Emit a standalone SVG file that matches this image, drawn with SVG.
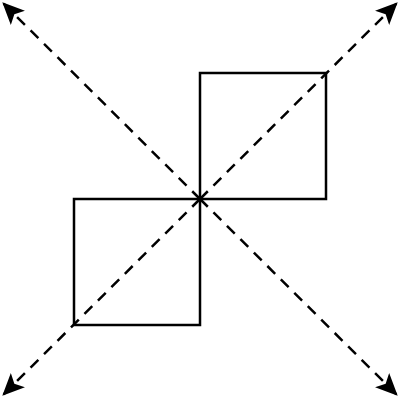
<svg xmlns="http://www.w3.org/2000/svg" width="400" height="400" viewBox="0 0 400 400">
  <defs>
    <style>
      .sq { fill: none; stroke: #000; stroke-width: 2.5; }
      .dash { fill: none; stroke: #000; stroke-width: 2.5; stroke-dasharray: 11 8; }
    </style>
    <marker id="arr" viewBox="0 0 22 20" refX="21" refY="10" markerWidth="22" markerHeight="20" markerUnits="userSpaceOnUse" orient="auto">
      <path d="M0,0 L22,10 L0,20 L5,10 Z" fill="#000"/>
    </marker>
  </defs>
  <rect width="400" height="400" fill="#fff"/>
  <g id="connectors">
    <line class="dash" x1="200" y1="199" x2="3" y2="3" marker-end="url(#arr)"/>
    <line class="dash" x1="200" y1="199" x2="397" y2="3" marker-end="url(#arr)"/>
    <line class="dash" x1="200" y1="199" x2="3" y2="395" marker-end="url(#arr)"/>
    <line class="dash" x1="200" y1="199" x2="397" y2="395" marker-end="url(#arr)"/>
  </g>
  <g id="square-top-right">
    <rect class="sq" x="200" y="73" width="126" height="126"/>
  </g>
  <g id="square-bottom-left">
    <rect class="sq" x="74" y="199" width="126" height="126"/>
  </g>
</svg>
